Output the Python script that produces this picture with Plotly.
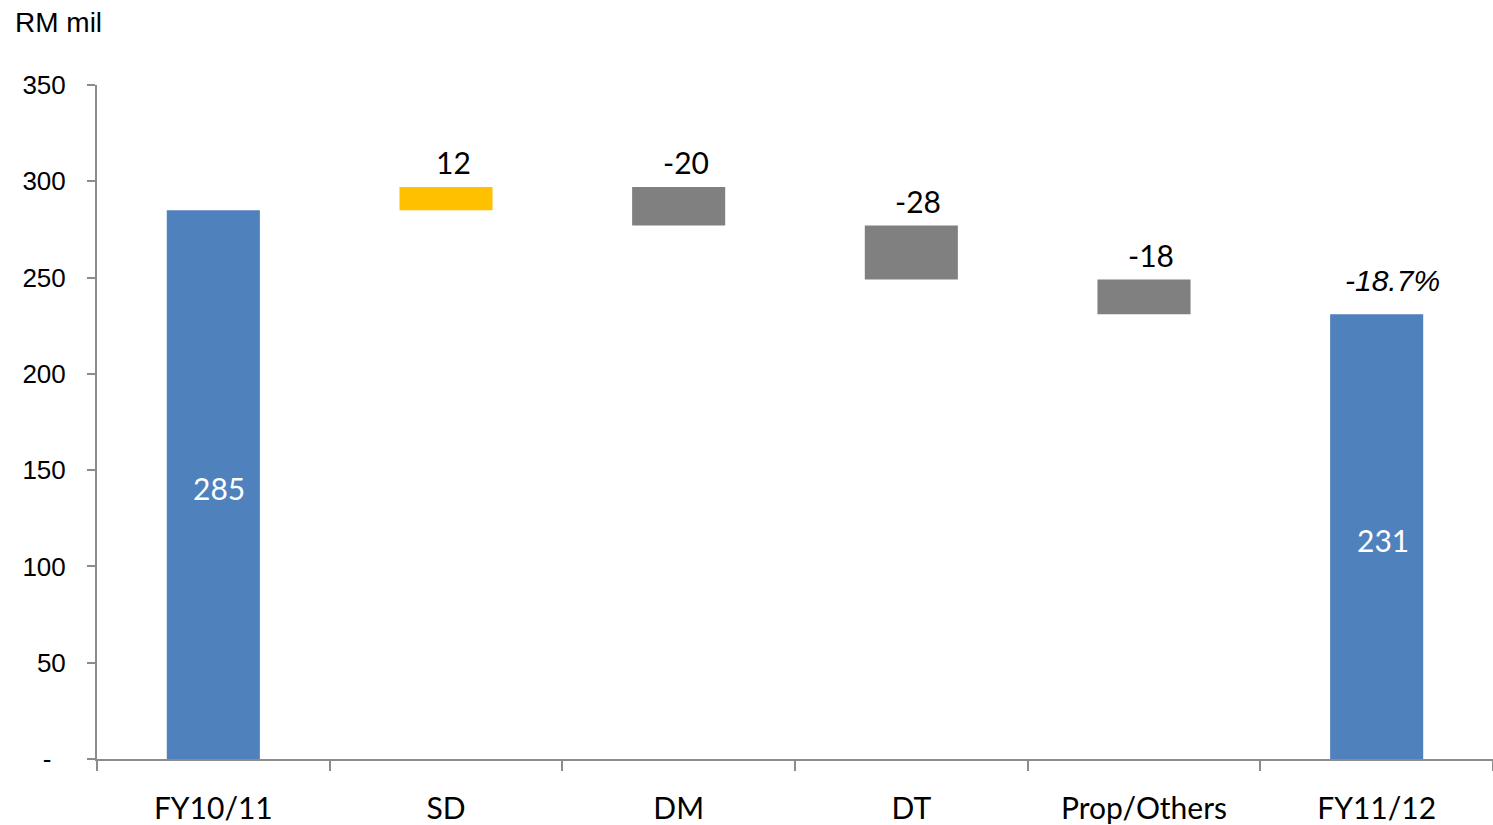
import plotly.graph_objects as go

categories = ["FY10/11", "SD", "DM", "DT", "Prop/Others", "FY11/12"]
start_value = 285
changes = [12, -20, -28, -18]
end_value = 231
end_note = "-18.7%"
y_tickvals = [0, 50, 100, 150, 200, 250, 300, 350]
y_ticktext = ["-\u2007", "50", "100", "150", "200", "250", "300", "350"]

BLUE = "#4F81BD"
YELLOW = "#FFC000"
GRAY = "#808080"
AXIS = "#8C8C8C"
CAT_FONT = "Lato, Carlito, sans-serif"
NUM_FONT = "Liberation Sans, Arial, sans-serif"

# build waterfall geometry from the data
bases, heights, colors = [0], [start_value], [BLUE]
running = start_value
for d in changes:
    bases.append(running if d >= 0 else running + d)
    heights.append(abs(d))
    colors.append(YELLOW if d >= 0 else GRAY)
    running += d
bases.append(0)
heights.append(end_value)
colors.append(BLUE)

fig = go.Figure()
fig.add_trace(go.Bar(
    x=categories, y=heights, base=bases,
    marker=dict(color=colors, line=dict(width=0)),
    width=0.4, hoverinfo="skip", showlegend=False,
))

annotations = []
# totals: white labels inside, centred
for i, v in [(0, start_value), (len(categories) - 1, end_value)]:
    annotations.append(dict(
        x=categories[i], y=v / 2, text=str(v), showarrow=False,
        font=dict(family=CAT_FONT, size=30, color="white"), xanchor="center", yanchor="middle",
        xshift=6, yshift=-3,
    ))
# changes: labels above the bars
for k, d in enumerate(changes):
    i = k + 1
    top = bases[i] + heights[i]
    annotations.append(dict(
        x=categories[i], y=top, text=str(d), showarrow=False,
        font=dict(family=CAT_FONT, size=30, color="black"), xanchor="center", yanchor="bottom",
        yshift=5, xshift=7,
    ))
annotations.append(dict(
    x=categories[-1], y=end_value, text="<i>%s</i>" % end_note, showarrow=False,
    font=dict(family=NUM_FONT, size=30, color="black"), xanchor="center", yanchor="bottom",
    yshift=15, xshift=16,
))
annotations.append(dict(
    x=0, y=1, xref="paper", yref="paper", xanchor="left", yanchor="middle",
    xshift=-84, yshift=63, text="RM mil", showarrow=False,
    font=dict(family=NUM_FONT, size=28, color="black"),
))

fig.update_layout(
    width=1493, height=825,
    margin=dict(l=97, r=0, t=85, b=66),
    paper_bgcolor="white", plot_bgcolor="white",
    annotations=annotations,
    bargap=0.6,
    xaxis=dict(
        type="category", showgrid=False, showline=True, linecolor=AXIS, linewidth=2,
        ticks="outside", tickson="boundaries", ticklen=10, tickwidth=2, tickcolor=AXIS,
        tickfont=dict(family=CAT_FONT, size=30, color="black"), ticklabelstandoff=22,
    ),
    yaxis=dict(
        range=[0, 350], tickvals=y_tickvals, ticktext=y_ticktext,
        showgrid=False, showline=True, linecolor=AXIS, linewidth=2, zeroline=False,
        ticks="outside", ticklen=8, tickwidth=2, tickcolor=AXIS,
        tickfont=dict(family=NUM_FONT, size=26, color="black"), ticklabelstandoff=16,
    ),
)

fig.write_html("out.html")
